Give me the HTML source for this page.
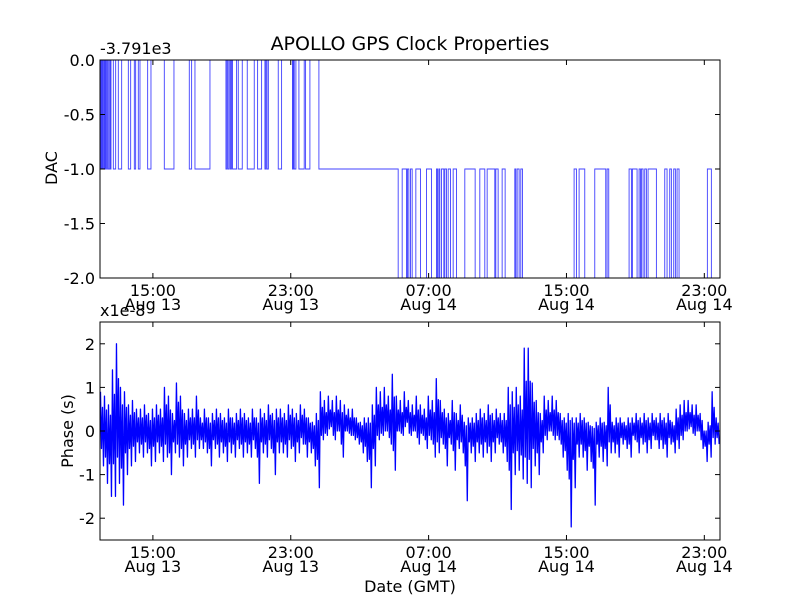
<!DOCTYPE html>
<html><head><meta charset="utf-8"><style>
html,body{margin:0;padding:0;background:#fff;}
svg text{font-family:"DejaVu Sans","Liberation Sans",sans-serif;fill:#000;}
</style></head><body>
<svg id="chart" width="800" height="600" viewBox="0 0 800 600" xmlns="http://www.w3.org/2000/svg">
<rect width="800" height="600" fill="#fff"/>
<text x="410" y="50" font-size="19" text-anchor="middle">APOLLO GPS Clock Properties</text>
<g id="top"></g>
<g id="bot"></g>
</svg>
<script>
// ---- data ----
const tStart = 11.93, tEnd = 47.91; // hours since Aug 13 00:00
const tickHours = [15, 23, 31, 39, 47];
const tickTimes = ["15:00", "23:00", "07:00", "15:00", "23:00"];
const tickDates = ["Aug 13", "Aug 13", "Aug 14", "Aug 14", "Aug 14"];
const dacTicks = [0.0, -0.5, -1.0, -1.5, -2.0];
const dacTickLabels = ["0.0", "-0.5", "-1.0", "-1.5", "-2.0"];
const phaseTicks = [2, 1, 0, -1, -2];
const phaseTickLabels = ["2", "1", "0", "-1", "-2"];
// DAC step series: value begins at each time
const dacTimes = [11.911,11.969,12.007,12.046,12.085,12.143,12.181,12.220,12.259,12.317,12.355,12.413,12.491,12.529,12.568,12.703,12.839,12.993,13.187,13.574,13.709,13.922,13.999,14.154,14.250,14.695,14.888,15.662,16.222,17.112,17.247,17.441,18.311,19.239,19.300,19.360,19.432,19.500,19.560,19.620,19.857,19.954,20.186,20.476,20.882,21.076,21.308,21.501,21.560,21.620,21.700,22.274,22.468,23.100,23.150,23.203,23.299,23.473,23.782,23.860,24.111,24.633,
29.234,29.466,29.718,29.776,29.853,29.950,30.046,30.259,30.530,30.878,31.168,31.458,31.516,31.593,31.651,31.748,31.883,31.941,32.038,32.135,32.270,32.425,32.618,33.101,33.701,33.971,34.261,34.397,34.841,34.899,35.035,35.267,35.441,36.002,36.060,36.137,36.253,36.350,36.446,39.443,39.579,39.733,40.062,40.642,41.280,41.357,41.454,42.634,42.769,42.827,43.098,43.214,43.291,43.349,43.446,43.542,43.639,43.736,44.219,44.703,44.838,44.993,45.089,45.224,45.321,45.418,45.534,47.177,47.409];
const dacValues = [0,-1,0,-1,0,-1,0,-1,0,-1,0,-1,0,-1,0,-1,0,-1,0,-1,0,-1,0,-1,0,-1,0,-1,0,-1,0,-1,0,-1,0,-1,0,-1,0,-1,0,-1,0,-1,0,-1,0,-1,0,-1,0,-1,0,-1,0,-1,0,-1,0,-1,0,-1,
-2,-1,-2,-1,-2,-1,-2,-1,-2,-1,-2,-1,-2,-1,-2,-1,-2,-1,-2,-1,-2,-1,-2,-1,-2,-1,-2,-1,-2,-1,-2,-1,-2,-1,-2,-1,-2,-1,-2,-1,-2,-1,-2,-1,-2,-1,-2,-1,-2,-1,-2,-1,-2,-1,-2,-1,-2,-1,-2,-1,-2,-1,-2,-1,-2,-1,-2,-1,-2];
// Phase (x1e-8 s): per-bin high / low excursions, bin width in hours
const phaseBinHours = 0.232;
const phaseHi = [0.9,0.8,0.6,1.4,2.0, 1.0,0.9,0.6,0.7,0.5, 0.5,0.6,0.4,0.5,0.6, 0.5,1.0,0.8,0.4,1.1, 0.8,0.4,0.5,0.5,0.8, 0.3,0.5,0.3,0.4,0.5, 0.4,0.3,0.5,0.3,0.4, 0.5,0.4,0.3,0.5,0.3, 0.5,0.4,0.6,0.4,0.5, 0.5,0.4,0.6,0.5,0.4, 0.6,0.5,0.3,0.2,0.4, 0.9,0.7,0.8,0.7,0.8, 0.7,0.6,0.5,0.5,0.3, 0.2,0.3,0.3,0.6,1.0, 0.9,1.0,0.8,1.3,0.8, 0.7,0.9,0.7,0.6,0.8, 0.6,0.5,0.8,0.7,1.2, 0.7,0.5,0.4,0.7,0.4, 0.6,0.2,0.3,0.3,0.4, 0.5,0.4,0.6,0.4,0.5, 0.4,0.4,1.0,0.9,1.0, 0.8,1.9,1.9,1.1,0.7, 0.4,0.8,0.7,0.8,0.7, 0.4,0.3,0.4,0.3,0.3, 0.4,0.3,0.2,0.1,0.2, 0.3,0.2,1.0,0.2,0.3, 0.3,0.2,0.3,0.3,0.4, 0.3,0.4,0.3,0.4,0.3, 0.4,0.3,0.4,0.2,0.5, 0.6,0.7,0.7,0.6,0.6, 0.4,0.0,0.2,0.9,0.3];
const phaseLo = [-0.8,-1.2,-1.5,-1.5,-1.2, -1.7,-1.0,-0.8,-0.7,-0.5, -0.6,-0.5,-0.8,-0.7,-0.5, -0.7,-0.6,-1.0,-0.5,-0.6, -0.8,-0.6,-0.4,-0.6,-0.4, -0.4,-0.5,-0.8,-0.4,-0.6, -0.5,-0.7,-0.5,-0.6,-0.4, -0.6,-0.5,-0.6,-0.4,-1.2, -0.5,-0.6,-0.4,-1.0,-0.5, -0.5,-0.6,-0.4,-0.7,-0.5, -0.3,-0.6,-0.5,-0.8,-1.3, -0.2,-0.1,0.1,-0.2,0.0, -0.6,0.0,-0.1,-0.2,-0.3, -0.5,-0.7,-1.3,-0.8,-0.2, -0.1,0.0,-0.3,-0.9,0.0, -0.1,0.2,-0.1,0.0,-0.3, -0.1,-0.4,-0.2,-0.6,-0.5, -0.3,-0.8,-0.3,-0.9,-0.4, -0.5,-1.6,-0.5,-0.7,-0.5, -0.6,-0.5,-0.7,-0.5,-0.3, -0.5,-0.7,-1.8,-1.0,-0.9, -1.1,-1.2,-1.3,-0.8,-1.0, -0.5,-0.2,0.0,-0.2,-0.2, -0.6,-0.9,-2.2,-1.3,-0.6, -0.6,-0.9,-0.7,-1.7,-0.6, -0.7,-0.8,-0.5,-0.5,-0.6, -0.3,-0.4,-0.6,-0.2,-0.5, -0.3,-0.5,-0.4,-0.2,-0.4, -0.4,-0.6,-0.3,-0.5,-0.4, -0.2,0.0,0.1,-0.1,0.0, -0.4,-0.7,-0.6,-0.3,-0.3];

// ---- drawing ----
const NS = "http://www.w3.org/2000/svg";
const L = 100, R = 720;
const FS = 16;
const xScale = t => L + (t - tStart) / (tEnd - tStart) * (R - L);
function mk(tag, attrs, parent) {
  const e = document.createElementNS(NS, tag);
  for (const k in attrs) e.setAttribute(k, attrs[k]);
  parent.appendChild(e);
  return e;
}
function axes(g, T, B, yTicks, yLabels, yScale, prefix) {
  const frame = mk('rect', {x: L, y: T, width: R - L, height: B - T, fill: 'none', stroke: '#000', 'stroke-width': 1}, g);
  
  
  tickHours.forEach((h, i) => {
    const x = xScale(h);
    mk('line', {x1: x, x2: x, y1: B, y2: B - 5, stroke: '#000'}, g);
    mk('line', {x1: x, x2: x, y1: T, y2: T + 5, stroke: '#000'}, g);
    const t1 = mk('text', {x: x, y: B + 18, 'font-size': FS, 'text-anchor': 'middle'}, g);
    t1.textContent = tickTimes[i];
    
    
    const t2 = mk('text', {x: x, y: B + 32, 'font-size': FS, 'text-anchor': 'middle'}, g);
    t2.textContent = tickDates[i];
    
    
  });
  yTicks.forEach((v, i) => {
    const y = yScale(v);
    mk('line', {x1: L, x2: L + 5, y1: y, y2: y, stroke: '#000'}, g);
    mk('line', {x1: R, x2: R - 5, y1: y, y2: y, stroke: '#000'}, g);
    const t = mk('text', {x: L - 5, y: y + 6, 'font-size': FS, 'text-anchor': 'end'}, g);
    t.textContent = yLabels[i];
    
    
  });
}
// top panel
const gT = document.getElementById('top');
const T1 = 60, B1 = 278;
const yDac = v => T1 + (0 - v) / 2 * (B1 - T1);
let d = '';
dacTimes.forEach((t, i) => {
  const x = xScale(t).toFixed(2), y = yDac(dacValues[i]).toFixed(2);
  if (i === 0) d += 'M' + x + ',' + y;
  else d += 'L' + x + ',' + yDac(dacValues[i - 1]).toFixed(2) + 'L' + x + ',' + y;
});
d += 'L' + xScale(tEnd).toFixed(2) + ',' + yDac(dacValues[dacValues.length - 1]).toFixed(2);
const dl = mk('path', {d: d, fill: 'none', stroke: '#0000ff', 'stroke-width': 0.9, 'stroke-opacity': 0.75}, gT);


axes(gT, T1, B1, dacTicks, dacTickLabels, yDac, 'dac');
const off = mk('text', {x: 100, y: 54, 'font-size': FS}, gT);
off.textContent = '-3.791e3';


const yl1 = mk('text', {x: 57, y: 168, 'font-size': FS, 'text-anchor': 'middle', transform: 'rotate(-90 57 168)'}, gT);
yl1.textContent = 'DAC';


// bottom panel
const gB = document.getElementById('bot');
const T2 = 322, B2 = 540;
const yPh = v => T2 + (2.5 - v) / 5 * (B2 - T2);
let p = '';
phaseHi.forEach((hi, i) => {
  const lo = phaseLo[i];
  const t0 = tStart + i * phaseBinHours;
  const pts = [[t0 + phaseBinHours * 0.12, hi], [t0 + phaseBinHours * 0.37, lo * 0.5], [t0 + phaseBinHours * 0.62, hi * 0.6], [t0 + phaseBinHours * 0.87, lo]];
  pts.forEach((pt, j) => {
    p += ((i === 0 && j === 0) ? 'M' : 'L') + xScale(Math.min(pt[0], tEnd)).toFixed(2) + ',' + yPh(pt[1]).toFixed(2);
  });
});
const pl = mk('path', {d: p, fill: 'none', stroke: '#0000ff', 'stroke-width': 1.3, 'stroke-linejoin': 'round'}, gB);


axes(gB, T2, B2, phaseTicks, phaseTickLabels, yPh, 'phase');
const off2 = mk('text', {x: 100, y: 316, 'font-size': FS}, gB);
off2.textContent = 'x1e-8';


const yl2 = mk('text', {x: 73, y: 431, 'font-size': FS, 'text-anchor': 'middle', transform: 'rotate(-90 73 431)'}, gB);
yl2.textContent = 'Phase (s)';


const xl = mk('text', {x: 410, y: 592, 'font-size': FS, 'text-anchor': 'middle'}, gB);
xl.textContent = 'Date (GMT)';


</script>
</body></html>
